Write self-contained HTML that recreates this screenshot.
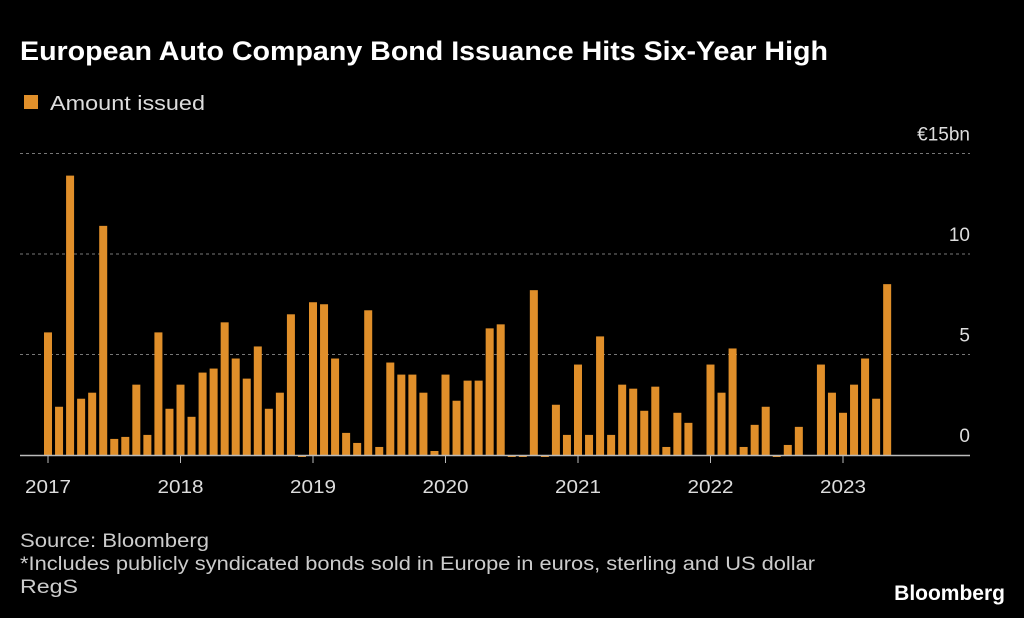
<!DOCTYPE html>
<html><head><meta charset="utf-8"><style>
body{margin:0;background:#000;width:1024px;height:618px;overflow:hidden;font-family:"Liberation Sans",sans-serif;color:#fff}
</style></head><body>
<svg width="1024" height="618" style="position:absolute;left:0;top:0">
<text x="20" y="60" font-size="27" font-weight="bold" fill="#fff" textLength="808" lengthAdjust="spacingAndGlyphs">European Auto Company Bond Issuance Hits Six-Year High</text>
<rect x="24" y="95" width="14" height="14" fill="#e08f2a"/>
<text x="50" y="110" font-size="20" fill="#ddd" textLength="155" lengthAdjust="spacingAndGlyphs">Amount issued</text>
<g id="grid"></g><g id="bars"></g><g id="xaxis"></g>
<text x="20" y="547" font-size="19" fill="#ccc" textLength="189" lengthAdjust="spacingAndGlyphs">Source: Bloomberg</text>
<text x="20" y="570" font-size="19" fill="#ccc" textLength="795" lengthAdjust="spacingAndGlyphs">*Includes publicly syndicated bonds sold in Europe in euros, sterling and US dollar</text>
<text x="20" y="593" font-size="19" fill="#ccc" textLength="58" lengthAdjust="spacingAndGlyphs">RegS</text>
<text x="1005" y="600" font-size="21" font-weight="bold" fill="#fff" text-anchor="end">Bloomberg</text>
</svg>
<script>
const values=[6.1,2.4,13.9,2.8,3.1,11.4,0.8,0.9,3.5,1.0,6.1,2.3,
3.5,1.9,4.1,4.3,6.6,4.8,3.8,5.4,2.3,3.1,7.0,-0.1,
7.6,7.5,4.8,1.1,0.6,7.2,0.4,4.6,4.0,4.0,3.1,0.2,
4.0,2.7,3.7,3.7,6.3,6.5,-0.1,-0.1,8.2,-0.1,2.5,1.0,
4.5,1.0,5.9,1.0,3.5,3.3,2.2,3.4,0.4,2.1,1.6,-0.05,
4.5,3.1,5.3,0.4,1.5,2.4,-0.1,0.5,1.4,-0.05,4.5,3.1,
2.1,3.5,4.8,2.8,8.5];
const yTicks=[0,5,10,15];
const yTickLabels=["0","5","10","€15bn"];
const years=["2017","2018","2019","2020","2021","2022","2023"];
const NS="http://www.w3.org/2000/svg";
const y=v=>455-v*20.1;
const x=i=>48+i*(132.5/12);
const grid=document.getElementById('grid'),bars=document.getElementById('bars'),xa=document.getElementById('xaxis');
yTicks.forEach((t,k)=>{
 if(t>0){const l=document.createElementNS(NS,'line');
 
 
 l.setAttribute('x1',20);l.setAttribute('x2',970);l.setAttribute('y1',y(t));l.setAttribute('y2',y(t));
 l.setAttribute('stroke','#777');l.setAttribute('stroke-dasharray','3,3');grid.appendChild(l);}
 const tx=document.createElementNS(NS,'text');
 
 
 tx.setAttribute('x',970);tx.setAttribute('y',y(t)-13);tx.setAttribute('text-anchor','end');
 tx.setAttribute('font-size','19');tx.setAttribute('fill','#ddd');tx.textContent=yTickLabels[k];grid.appendChild(tx);
});
values.forEach((v,i)=>{
 const r=document.createElementNS(NS,'rect');
 
 
 const top=Math.min(y(v),y(0)),h=Math.max(Math.abs(y(v)-y(0)),1);
 r.setAttribute('x',x(i)-4);r.setAttribute('y',top);r.setAttribute('width',8);r.setAttribute('height',h);
 r.setAttribute('fill','#e08f2a');bars.appendChild(r);
});
const base=document.createElementNS(NS,'line');


base.setAttribute('x1',20);base.setAttribute('x2',970);base.setAttribute('y1',455.5);base.setAttribute('y2',455.5);
base.setAttribute('stroke','#bbb');base.setAttribute('stroke-width','1.5');xa.appendChild(base);
years.forEach((yr,k)=>{
 const px=x(k*12);
 const t=document.createElementNS(NS,'line');
 
 
 t.setAttribute('x1',px);t.setAttribute('x2',px);t.setAttribute('y1',455);t.setAttribute('y2',463);
 t.setAttribute('stroke','#bbb');xa.appendChild(t);
 const tx=document.createElementNS(NS,'text');
 
 
 tx.setAttribute('x',px);tx.setAttribute('y',493);tx.setAttribute('text-anchor','middle');
 tx.setAttribute('font-size','18');tx.setAttribute('fill','#ddd');tx.setAttribute('textLength','46');tx.setAttribute('lengthAdjust','spacingAndGlyphs');
 tx.textContent=yr;xa.appendChild(tx);
});
</script>
</body></html>
